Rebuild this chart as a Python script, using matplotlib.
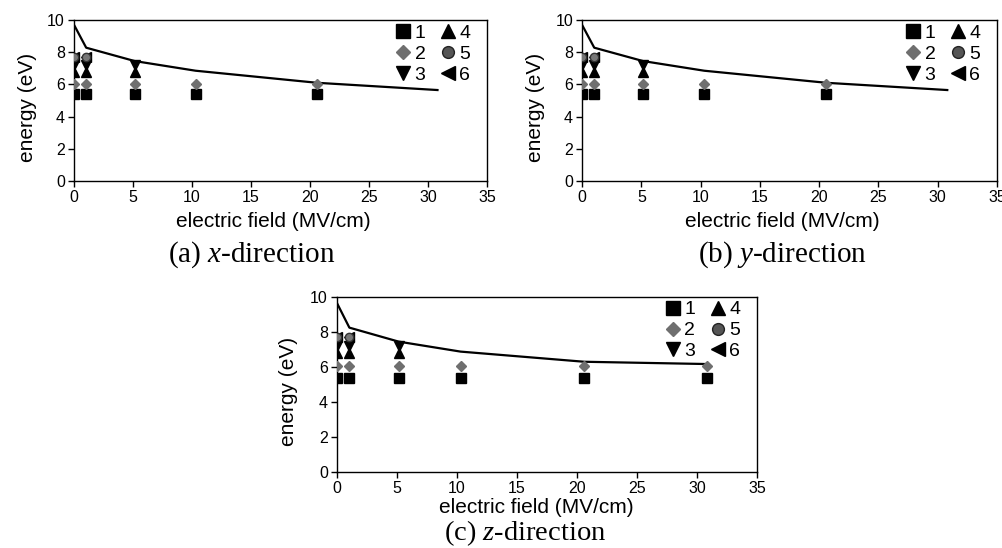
import numpy as np
import matplotlib.pyplot as plt
from matplotlib.lines import Line2D

plt.rcParams['font.family'] = ['Liberation Sans', 'DejaVu Sans']
plt.rcParams['mathtext.fontset'] = 'custom'
plt.rcParams['mathtext.rm'] = 'Liberation Serif'
plt.rcParams['mathtext.it'] = 'Liberation Serif:italic'

# Дані
field_ab = [0, 1.03, 5.14, 10.3, 20.6]
field_c = [0, 1.03, 5.14, 10.3, 20.6, 30.8]
field_mid = [0, 1.03, 5.14]
field_low = [0, 1.03]

e1_ab = [5.4, 5.4, 5.4, 5.4, 5.4]
e1_c = [5.4, 5.4, 5.4, 5.4, 5.4, 5.4]
e2_ab = [6.05, 6.05, 6.05, 6.05, 6.05]
e2_c = [6.05, 6.05, 6.05, 6.05, 6.05, 6.05]
e3 = [7.2, 7.2, 7.2]
e4 = [6.8, 6.8, 6.8]
e5 = [7.7, 7.7]
e6 = [7.7, 7.7]

line_x = [0, 1.03, 5.14, 10.3, 20.6, 30.8]
line_ab = [9.7, 8.28, 7.45, 6.85, 6.1, 5.65]
line_c = [9.65, 8.25, 7.45, 6.88, 6.3, 6.17]

x_ticks = [0, 5, 10, 15, 20, 25, 30, 35]
y_ticks = [0, 2, 4, 6, 8, 10]
labels = ['1', '2', '3', '4', '5', '6']
captions = ['(a) $x$-direction', '(b) $y$-direction', '(c) $z$-direction']

gray = '#6f6f6f'


def draw_panel(ax, xs, s1, s2, lx, ly):
    ax.plot(lx, ly, color='black', linewidth=1.6, zorder=2)
    ax.plot(xs, s1, 's', color='black', markersize=7, zorder=3)
    ax.plot(xs, s2, 'D', color=gray, markersize=4.8, zorder=3)
    ax.plot(field_mid, e3, 'v', color='black', markersize=7, zorder=3)
    ax.plot(field_mid, e4, '^', color='black', markersize=7, zorder=3)
    ax.plot(field_low, e6, '<', color='black', markersize=7, zorder=3)
    ax.plot(field_low, e5, 'o', markerfacecolor='#777777', markeredgecolor='#333333',
            markersize=6, zorder=4)

    ax.set_xlim(0, 35)
    ax.set_ylim(0, 10)
    ax.set_xticks(x_ticks)
    ax.set_yticks(y_ticks)
    ax.tick_params(direction='out', length=4, width=1, labelsize=11.5, pad=2.5)
    for sp in ax.spines.values():
        sp.set_linewidth(1)
    ax.set_xlabel('electric field (MV/cm)', fontsize=15)
    ax.set_ylabel('energy (eV)', fontsize=15)

    handles = [
        Line2D([], [], ls='', marker='s', color='black', markersize=10),
        Line2D([], [], ls='', marker='D', color=gray, markersize=7),
        Line2D([], [], ls='', marker='v', color='black', markersize=10),
        Line2D([], [], ls='', marker='^', color='black', markersize=10),
        Line2D([], [], ls='', marker='o', markerfacecolor='#555555',
               markeredgecolor='#222222', markersize=8.5),
        Line2D([], [], ls='', marker='<', color='black', markersize=10),
    ]
    ax.legend(handles, labels, ncol=2, loc='upper right', frameon=False,
              fontsize=14, handlelength=0.6, handletextpad=0.3,
              columnspacing=0.85, labelspacing=0.17, borderaxespad=0.2,
              bbox_to_anchor=(0.988, 1.045))


fig = plt.figure(figsize=(10.03, 5.48), dpi=100)

ax_a = fig.add_axes([0.0738, 0.6697, 0.4118, 0.2938])
ax_b = fig.add_axes([0.5803, 0.6697, 0.4138, 0.2938])
ax_c = fig.add_axes([0.336, 0.1387, 0.4187, 0.3193])

draw_panel(ax_a, field_ab, e1_ab, e2_ab, line_x, line_ab)
draw_panel(ax_b, field_ab, e1_ab, e2_ab, line_x, line_ab)
draw_panel(ax_c, field_c, e1_c, e2_c, line_x, line_c)

for ax in (ax_a, ax_b):
    ax.xaxis.set_label_coords(0.482, -0.19)
    ax.yaxis.set_label_coords(-0.09, 0.46)
ax_c.xaxis.set_label_coords(0.474, -0.15)
ax_c.yaxis.set_label_coords(-0.093, 0.46)

fig.text(0.251, 0.535, captions[0], ha='center', va='center', fontsize=21,
         family='Liberation Serif')
fig.text(0.78, 0.535, captions[1], ha='center', va='center', fontsize=21,
         family='Liberation Serif')
fig.text(0.524, 0.027, captions[2], ha='center', va='center', fontsize=20.5,
         family='Liberation Serif')

fig.savefig('out.png', dpi=100)
